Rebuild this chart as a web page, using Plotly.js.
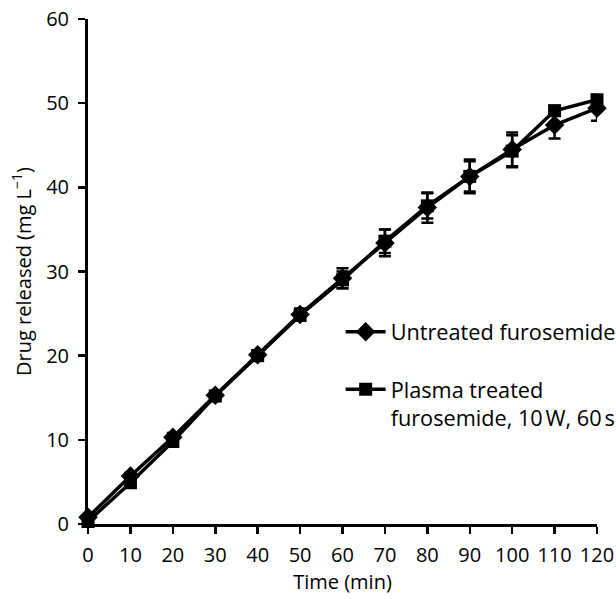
<!DOCTYPE html>
<html>
<head>
<meta charset="utf-8">
<script src="https://cdn.plot.ly/plotly-3.0.1.min.js"></script>
<style>html,body{margin:0;padding:0;background:#fff;}#chart{width:616px;height:599px;}</style>
</head>
<body>
<div id="chart"></div>
<script>
const timeMin = [0, 10, 20, 30, 40, 50, 60, 70, 80, 90, 100, 110, 120];
const untreated = [0.8, 5.7, 10.3, 15.3, 20.1, 24.9, 29.2, 33.4, 37.6, 41.3, 44.5, 47.4, 49.4];
const untreatedErr = [0.3, 0.4, 0.5, 0.5, 0.5, 0.7, 1.2, 1.6, 1.8, 2.0, 2.0, 1.6, 1.5];
const plasma = [0.3, 4.9, 9.8, 15.2, 20.0, 24.8, 29.0, 33.6, 37.8, 41.3, 44.3, 49.1, 50.4];
const plasmaErr = [0.3, 0.4, 0.5, 0.5, 0.5, 0.6, 1.0, 1.4, 1.5, 1.8, 1.9, 0.6, 0.6];
const xTicks = [0, 10, 20, 30, 40, 50, 60, 70, 80, 90, 100, 110, 120];
const yTicks = [0, 10, 20, 30, 40, 50, 60];

const FONT = '"Open Sans", "Noto Sans", sans-serif';

const traces = [
  {
    x: timeMin, y: untreated, name: 'Untreated furosemide',
    type: 'scatter', mode: 'lines+markers', cliponaxis: false,
    line: {color: '#000', width: 3.5},
    marker: {symbol: 'diamond', size: 15, color: '#000'},
    error_y: {type: 'data', array: untreatedErr, visible: true, color: '#000', thickness: 2.5, width: 6},
    legend: 'legend'
  },
  {
    x: timeMin, y: plasma, name: 'Plasma treated<br>furosemide, 10\u202FW, 60\u202Fs',
    type: 'scatter', mode: 'lines+markers', cliponaxis: false,
    line: {color: '#000', width: 3.5},
    marker: {symbol: 'square', size: 13, color: '#000'},
    error_y: {type: 'data', array: plasmaErr, visible: true, color: '#000', thickness: 2.5, width: 6},
    legend: 'legend2'
  }
];

const legendBase = {
  font: {family: FONT, size: 21.7, color: '#000'},
  bgcolor: 'rgba(0,0,0,0)', borderwidth: 0,
  xref: 'container', yref: 'container',
  xanchor: 'left', valign: 'top', itemwidth: 40
};

const layout = {
  width: 616, height: 599,
  margin: {l: 88, r: 19, t: 19, b: 75, pad: 0, autoexpand: false},
  paper_bgcolor: '#fff', plot_bgcolor: '#fff',
  font: {family: FONT, size: 20, color: '#000'},
  showlegend: true,
  legend: Object.assign({}, legendBase, {x: 0.553, y: 0.4457, yanchor: 'middle'}),
  legend2: Object.assign({}, legendBase, {x: 0.553, y: 0.3847, yanchor: 'top'}),
  xaxis: {
    range: [0, 120], tickvals: xTicks, ticktext: xTicks.map(String),
    showline: true, linecolor: '#000', linewidth: 3,
    ticks: 'outside', ticklen: 7, tickwidth: 2.5, tickcolor: '#000',
    ticklabelstandoff: 4,
    showgrid: false, zeroline: false,
    tickfont: {family: FONT, size: 20, color: '#000'},
    title: {text: 'Time (min)', font: {family: FONT, size: 20, color: '#000'}, standoff: 7}
  },
  yaxis: {
    range: [0, 60], tickvals: yTicks, ticktext: yTicks.map(String),
    showline: true, linecolor: '#000', linewidth: 3,
    ticks: 'outside', ticklen: 7, tickwidth: 2.5, tickcolor: '#000',
    ticklabelstandoff: 5,
    showgrid: false, zeroline: false,
    tickfont: {family: FONT, size: 20, color: '#000'},
    title: {text: 'Drug released (mg L<sup>\u22121</sup>)', font: {family: FONT, size: 20, color: '#000'}, standoff: 10}
  }
};

Plotly.newPlot('chart', traces, layout, {displayModeBar: false, staticPlot: true});
</script>
</body>
</html>
